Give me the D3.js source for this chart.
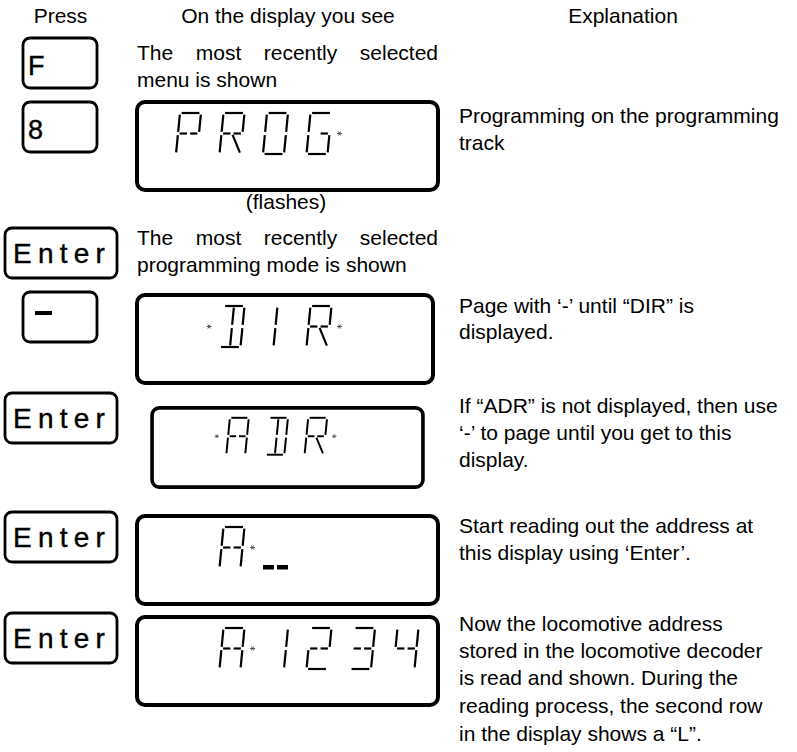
<!DOCTYPE html>
<html><head><meta charset="utf-8">
<script src="https://cdn.jsdelivr.net/npm/d3@7"></script>
<style>body{margin:0;background:#fff}</style>
</head><body><svg id="c" width="797" height="752" style="display:block"></svg>
<script>
// ---- content ----
const headers = ["Press", "On the display you see", "Explanation"];
const keyLabels = ["F", "8", "Enter", "-", "Enter", "Enter", "Enter"];
const displayTexts = ["PROG", " DIR", " ADR", " A_", " A1234"];
const displayMarks = [[3], [0, 3], [0, 3], [1], [1]];
const displayNotes = ["(flashes)", "", "", "", ""];
const leftTexts = [
  ["The most recently selected", "menu is shown"],
  ["The most recently selected", "programming mode is shown"]
];
const explanations = [
  ["Programming on the programming", "track"],
  ["Page with \u2018-\u2019 until \u201cDIR\u201d is", "displayed."],
  ["If \u201cADR\u201d is not displayed, then use", "\u2018-\u2019 to page until you get to this", "display."],
  ["Start reading out the address at", "this display using \u2018Enter\u2019."],
  ["Now the locomotive address", "stored in the locomotive decoder", "is read and shown. During the", "reading process, the second row", "in the display shows a \u201cL\u201d."]
];

// ---- layout ----
const FONT = "'Liberation Sans', Arial, Helvetica, sans-serif";
const svg = d3.select("#c");
const keyTops = [38, 102, 228, 292, 393, 512, 613];
const dispLayout = [
  {top: 102, x0: 137, x1: 438, s: 1},
  {top: 295, x0: 137, x1: 433, s: 1},
  {top: 403.5, x0: 137, x1: 438, s: 0.9},
  {top: 516, x0: 137, x1: 438, s: 1},
  {top: 617, x0: 137, x1: 438, s: 1}
];
const leftBase = [[60, 87], [245, 272]];
const explBase = [[123, 150], [313, 339], [413, 440, 467], [533, 560], [631, 658, 685, 713, 741]];

// headers
const headerX = d3.scaleOrdinal().domain(headers).range([60.5, 288, 623]);
svg.selectAll("text.h").data(headers).join("text")
  .attr("x", d => headerX(d)).attr("y", 23)
  .attr("text-anchor", "middle")
  .style("font-family", FONT).style("font-size", "21px")
  .text(d => d);

// keys
keyLabels.forEach((lab, i) => {
  const wide = lab === "Enter";
  const x = wide ? 5 : 23, w = wide ? 112 : 74, y = keyTops[i], h = 50;
  const g = svg.append("g");
  g.append("rect").attr("x", x).attr("y", y).attr("width", w).attr("height", h)
    .attr("rx", 7).attr("fill", "#fff").attr("stroke", "#000").attr("stroke-width", 2.8);
  if (lab === "-") {
    g.append("rect").attr("x", 35).attr("y", y + 19).attr("width", 17).attr("height", 4).attr("fill", "#000");
  } else if (wide) {
    g.append("text").attr("x", 13).attr("y", y + 35)
      .style("font-family", FONT).style("font-size", "28px").style("letter-spacing", "6.2px")
      .attr("stroke", "#000").attr("stroke-width", 0.4)
      .text(lab);
  } else {
    g.append("text").attr("x", 28).attr("y", y + 37)
      .style("font-family", FONT).style("font-size", "27px")
      .attr("stroke", "#000").attr("stroke-width", 0.4)
      .text(lab);
  }
});

// justified text helper
function measure(str) {
  const t = svg.append("text").style("font-family", FONT).style("font-size", "21px").text(str);
  const w = t.node().getComputedTextLength(); t.remove(); return w;
}
function justified(str, x0, x1, y) {
  const words = str.split(" ");
  const ws = words.map(measure);
  const gap = (x1 - x0 - d3.sum(ws)) / (words.length - 1);
  let x = x0;
  words.forEach((w, i) => {
    svg.append("text").attr("x", x).attr("y", y)
      .style("font-family", FONT).style("font-size", "21px").text(w);
    x += ws[i] + gap;
  });
}
leftTexts.forEach((lines, k) => {
  lines.forEach((ln, j) => {
    if (j < lines.length - 1) justified(ln, 137, 438, leftBase[k][j]);
    else svg.append("text").attr("x", 137).attr("y", leftBase[k][j])
      .style("font-family", FONT).style("font-size", "21px").text(ln);
  });
});

// explanations
explanations.forEach((lines, k) => {
  svg.selectAll(null).data(lines).join("text")
    .attr("x", 459).attr("y", (d, j) => explBase[k][j])
    .style("font-family", FONT).style("font-size", "21px").text(d => d);
});

// ---- LCD glyphs ----
const W = 25, H = 41, SL = 4, W0 = W - SL, GAP = 1.6;
const SEG = {
  a: [0, 0, W0, 0], b: [W0, 0, W0, H / 2], c: [W0, H / 2, W0, H], d: [0, H, W0, H],
  e: [0, H / 2, 0, H], f: [0, 0, 0, H / 2], g1: [0, H / 2, W0 / 2, H / 2], g2: [W0 / 2, H / 2, W0, H / 2],
  h: [0, 0, W0 / 2, H / 2], i: [W0 / 2, 0, W0 / 2, H / 2], j: [W0, 0, W0 / 2, H / 2],
  k: [W0 / 2, H / 2, 0, H], l: [W0 / 2, H / 2, W0 / 2, H], m: [W0 / 2, H / 2, W0, H]
};
const GLYPH = {
  P: "a b f e g1 g2", R: "a b f e g1 g2 m", O: "a b c d e f", G: "a f e d c g2",
  D: "a b c d i l", I: "i l", A: "a b c e f g1 g2",
  "1": "b c", "2": "a b g1 g2 e d", "3": "a b c d g1 g2", "4": "f g1 g2 b c"
};
function mapPt(x, y, u, v) { return [x + u + SL * (1 - v / H), y + v]; }
function drawGlyph(g, ch, x, y) {
  if (ch === "_") {
    g.append("rect").attr("x", x).attr("y", y + H - 3).attr("width", 11).attr("height", 4.5).attr("fill", "#000");
    g.append("rect").attr("x", x + 14).attr("y", y + H - 3).attr("width", 11).attr("height", 4.5).attr("fill", "#000");
    return;
  }
  const segs = (GLYPH[ch] || "").split(" ").filter(Boolean);
  segs.forEach(s => {
    let [u1, v1, u2, v2] = SEG[s];
    const du = u2 - u1, dv = v2 - v1, L = Math.hypot(du, dv);
    u1 += du / L * GAP; v1 += dv / L * GAP; u2 -= du / L * GAP; v2 -= dv / L * GAP;
    const p1 = mapPt(x, y, u1, v1), p2 = mapPt(x, y, u2, v2);
    g.append("line").attr("x1", p1[0]).attr("y1", p1[1]).attr("x2", p2[0]).attr("y2", p2[1])
      .attr("stroke", "#000").attr("stroke-width", 2.2);
  });
}
function drawMark(g, x, y) {
  g.append("path").attr("d", `M${x - 2.5},${y}L${x + 2.5},${y}M${x - 1.2},${y - 2}L${x + 1.2},${y + 2}M${x + 1.2},${y - 2}L${x - 1.2},${y + 2}`)
    .attr("stroke", "#555").attr("stroke-width", 1);
}

const cellX = d3.scaleLinear().domain([0, 1]).range([176, 219.5]);

displayTexts.forEach((txt, k) => {
  const L = dispLayout[k];
  const cxm = (L.x0 + L.x1) / 2, cym = L.top + 44;
  const g = svg.append("g").attr("transform",
    `translate(${cxm},${cym}) scale(${L.s}) translate(${-cxm},${-cym})`);
  g.append("rect").attr("x", L.x0).attr("y", L.top).attr("width", L.x1 - L.x0).attr("height", 88)
    .attr("rx", 8).attr("fill", "#fff").attr("stroke", "#000").attr("stroke-width", 4);
  const ty = L.top + 11;
  [...txt].forEach((ch, i) => { if (ch !== " ") drawGlyph(g, ch, cellX(i), ty); });
  displayMarks[k].forEach(i => drawMark(g, cellX(i) + 33, ty + H / 2));
  if (displayNotes[k]) {
    svg.append("text").attr("x", 286).attr("y", L.top + 88 + 19)
      .attr("text-anchor", "middle")
      .style("font-family", FONT).style("font-size", "21px").text(displayNotes[k]);
  }
});
</script></body></html>
